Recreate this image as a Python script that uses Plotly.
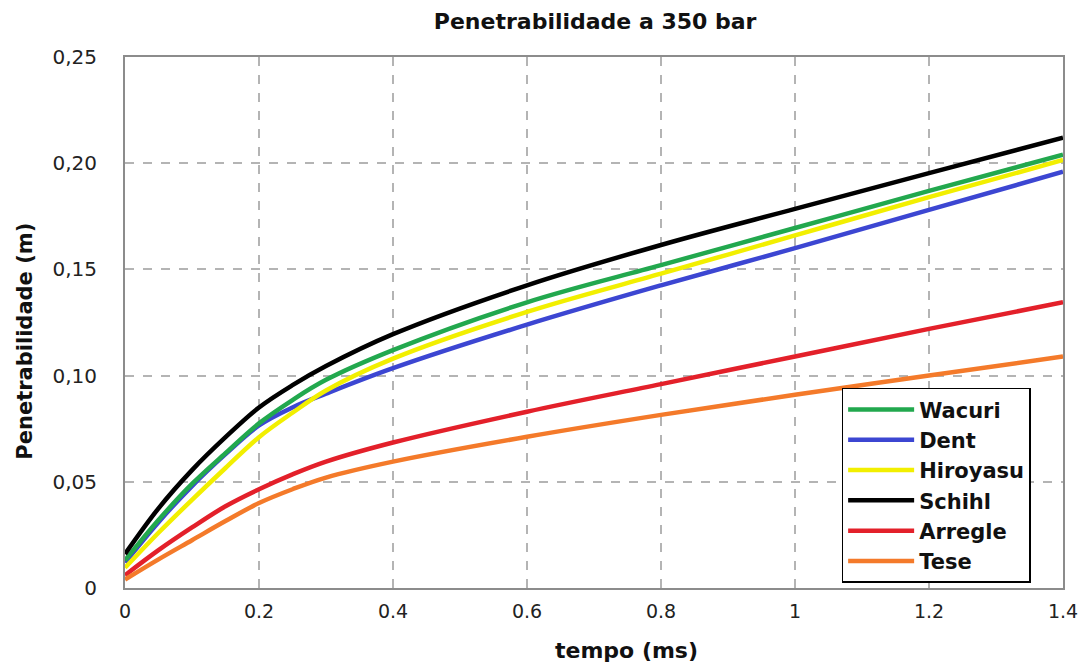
import plotly.graph_objects as go

# Time samples (ms) and spray penetration (m) for each model
tempo = [0, 0.05, 0.1, 0.15, 0.2, 0.25, 0.3, 0.4, 0.6, 0.8, 1.0, 1.2, 1.4]

wacuri = [0.013, 0.032, 0.049, 0.0635, 0.0775, 0.0885, 0.098, 0.112, 0.1345, 0.152, 0.1695, 0.187, 0.204]
dent = [0.012, 0.031, 0.048, 0.063, 0.0765, 0.085, 0.0915, 0.1035, 0.124, 0.1425, 0.160, 0.178, 0.196]
hiroyasu = [0.0095, 0.026, 0.0415, 0.0565, 0.071, 0.0825, 0.093, 0.108, 0.130, 0.148, 0.166, 0.184, 0.2015]
schihl = [0.016, 0.0375, 0.0555, 0.071, 0.085, 0.0955, 0.1045, 0.1195, 0.1425, 0.1615, 0.1785, 0.1953, 0.212]
arregle = [0.006, 0.0178, 0.0285, 0.0385, 0.0465, 0.0535, 0.0595, 0.0685, 0.083, 0.096, 0.109, 0.122, 0.1345]
tese = [0.004, 0.0135, 0.0225, 0.0315, 0.040, 0.0465, 0.052, 0.0595, 0.0712, 0.0815, 0.091, 0.100, 0.109]

y_ticks = [0, 0.05, 0.10, 0.15, 0.20, 0.25]
y_tick_text = ["0", "0,05", "0,10", "0,15", "0,20", "0,25"]
x_ticks = [0, 0.2, 0.4, 0.6, 0.8, 1.0, 1.2, 1.4]
x_tick_text = ["0", "0.2", "0.4", "0.6", "0.8", "1", "1.2", "1.4"]

FONT = "DejaVu Sans"

# (name, values, colour, legend position); listed in drawing order
series = [
    ("Dent", dent, "#3c46d2", 2),
    ("Hiroyasu", hiroyasu, "#f2ef00", 3),
    ("Wacuri", wacuri, "#22a84e", 1),
    ("Schihl", schihl, "#000000", 4),
    ("Arregle", arregle, "#e3202a", 5),
    ("Tese", tese, "#f47a2a", 6),
]

fig = go.Figure()
for name, vals, color, rank in series:
    fig.add_trace(go.Scatter(
        x=tempo, y=vals, name=f"<b>{name}</b>", mode="lines",
        line=dict(color=color, width=4.5, shape="spline", smoothing=1.0),
        legendrank=rank, legendgroup=name,
    ))

axis_line = dict(showline=True, linecolor="#8c8c8c", linewidth=2, mirror=True,
                 showgrid=True, gridcolor="#b4b4b4", griddash="dash", gridwidth=1.5,
                 zeroline=False, ticks="")

fig.update_layout(
    width=1090, height=668,
    margin=dict(l=125, r=25, t=57, b=80),
    paper_bgcolor="white", plot_bgcolor="white",
    title=dict(text="<b>Penetrabilidade a 350 bar</b>", x=0.546, xanchor="center",
               y=0.968, yanchor="middle", font=dict(family=FONT, size=22, color="#111")),
    xaxis=dict(range=[0, 1.4], tickvals=x_ticks, ticktext=x_tick_text,
               tickfont=dict(family=FONT, size=19, color="#222"), ticklabelstandoff=5,
               **axis_line),
    yaxis=dict(range=[0, 0.25], tickvals=y_ticks, ticktext=y_tick_text,
               tickfont=dict(family=FONT, size=20, color="#222"), ticklabelstandoff=22,
               **axis_line),
    legend=dict(x=0.764, y=0.377, xanchor="left", yanchor="top",
                bgcolor="white", bordercolor="#000", borderwidth=1.5,
                font=dict(family=FONT, size=21, color="#111"),
                tracegroupgap=0, itemwidth=66),
    showlegend=True,
    annotations=[
        dict(text="<b>tempo (ms)</b>", xref="paper", yref="paper", x=0.535, y=-0.118,
             xanchor="center", yanchor="middle", showarrow=False,
             font=dict(family=FONT, size=22, color="#111")),
        dict(text="<b>Penetrabilidade (m)</b>", xref="paper", yref="paper", x=-0.106, y=0.465,
             xanchor="center", yanchor="middle", textangle=-90, showarrow=False,
             font=dict(family=FONT, size=21, color="#111")),
    ],
)

fig.write_html("out.html")
